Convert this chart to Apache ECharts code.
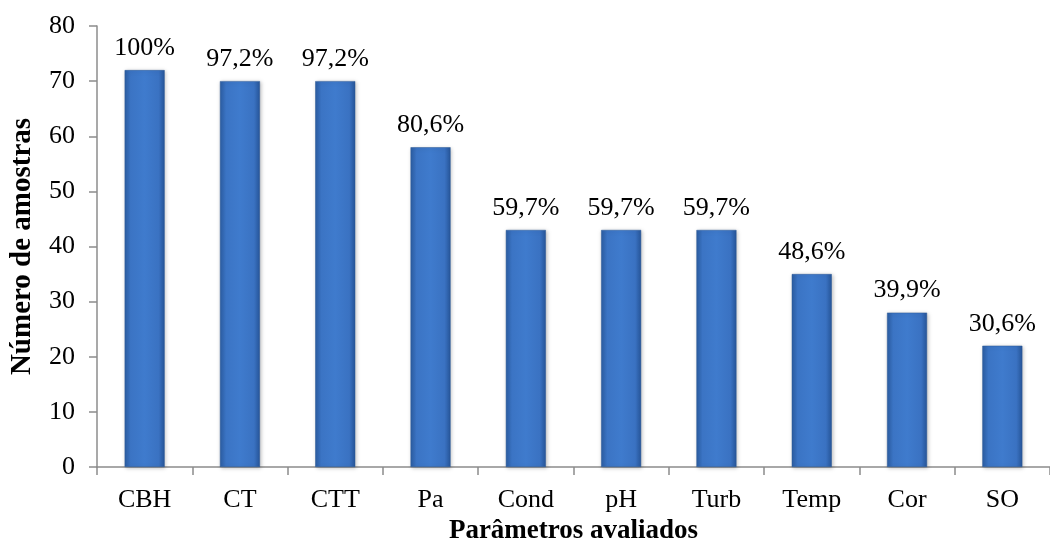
<!DOCTYPE html>
<html>
<head>
<meta charset="utf-8">
<script src="https://cdn.jsdelivr.net/npm/echarts@6/dist/echarts.min.js"></script>
<style>
  html, body { margin: 0; padding: 0; background: #fff; }
  #main { width: 1050px; height: 550px; }
</style>
</head>
<body>
<div id="main"></div>
<script>
// dados
const categorias = ["CBH", "CT", "CTT", "Pa", "Cond", "pH", "Turb", "Temp", "Cor", "SO"];
const amostras = [72, 70, 70, 58, 43, 43, 43, 35, 28, 22];
const percentuais = ["100%", "97,2%", "97,2%", "80,6%", "59,7%", "59,7%", "59,7%", "48,6%", "39,9%", "30,6%"];

const fonte = "'Liberation Serif', 'Times New Roman', serif";
const myChart = echarts.init(document.getElementById("main"));

// gradiente horizontal imitando o efeito "bisel" do Excel
const corBarra = new echarts.graphic.LinearGradient(0, 0, 1, 0, [
  { offset: 0, color: "#2b5da3" },
  { offset: 0.15, color: "#3b74c4" },
  { offset: 0.5, color: "#3f7bcd" },
  { offset: 0.85, color: "#3a72c2" },
  { offset: 1, color: "#27569a" },
]);

const option = {
  animation: false,
  grid: { left: 94, right: -10, top: 26, bottom: 80 },
  xAxis: {
    type: "category",
    data: categorias,
    name: "Parâmetros avaliados",
    nameLocation: "middle",
    nameGap: 51,
    nameTextStyle: { fontFamily: fonte, fontSize: 27, fontWeight: "bold", color: "#000" },
    axisLine: { lineStyle: { color: "#8c8c8c", width: 1.5 } },
    axisTick: { show: true, length: 8, alignWithLabel: false, lineStyle: { color: "#8c8c8c", width: 1.5 } },
    axisLabel: { fontFamily: fonte, fontSize: 26, color: "#000", margin: 20 },
  },
  yAxis: {
    type: "value",
    min: 0,
    max: 80,
    interval: 10,
    name: "Número de amostras",
    nameLocation: "middle",
    nameGap: 60,
    nameRotate: 90,
    nameTextStyle: { fontFamily: fonte, fontSize: 29, fontWeight: "bold", color: "#000" },
    axisLine: { show: true, lineStyle: { color: "#8c8c8c", width: 1.5 } },
    axisTick: { show: true, length: 8, lineStyle: { color: "#8c8c8c", width: 1.5 } },
    splitLine: { show: false },
    axisLabel: { fontFamily: fonte, fontSize: 26, color: "#000", margin: 22 },
  },
  series: [
    {
      type: "bar",
      data: amostras,
      barWidth: 40,
      itemStyle: {
        color: corBarra,
        borderColor: "#2a5896",
        borderWidth: 0.5,
        shadowColor: "rgba(0,0,0,0.25)",
        shadowBlur: 4,
        shadowOffsetX: 1,
        shadowOffsetY: 1,
      },
      label: {
        show: true,
        position: "top",
        distance: 9,
        fontFamily: fonte,
        fontSize: 26,
        color: "#000",
        formatter: (p) => percentuais[p.dataIndex],
      },
    },
  ],
};

myChart.setOption(option);
</script>
</body>
</html>
